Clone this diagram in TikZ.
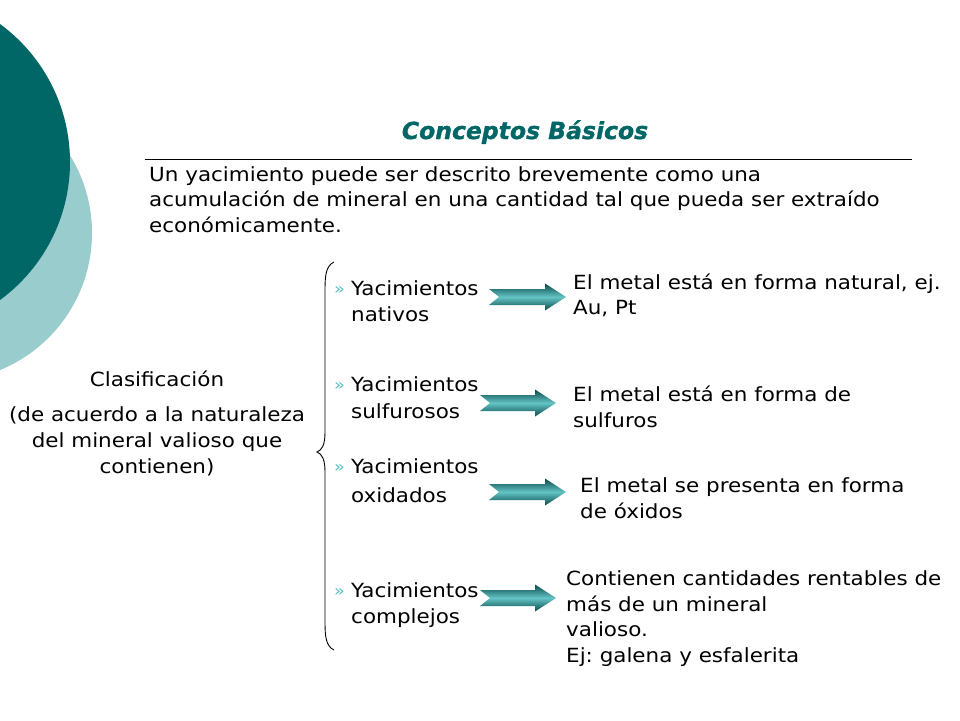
\documentclass[tikz,border=0pt]{standalone}
\usepackage{fontspec}
\setmainfont{DejaVu Sans}[FakeStretch=1.1]
\newfontfamily\titlefont{DejaVu Sans}[BoldItalicFeatures={FakeBold=1.2}]
\frenchspacing
\definecolor{tealdark}{RGB}{0,102,102}
\definecolor{teallight}{RGB}{153,204,204}
\definecolor{arrowdark}{RGB}{8,72,74}
\definecolor{arrowlight}{RGB}{100,196,196}
\definecolor{bulletc}{RGB}{90,190,200}
\tikzset{
  txt/.style={anchor=base west, inner sep=0pt, font=\fontsize{19.5}{25}\selectfont},
  ctxt/.style={anchor=base, inner sep=0pt, font=\fontsize{19.5}{25}\selectfont},
  bul/.style={anchor=base west, inner sep=0pt, text=bulletc, font=\fontsize{16}{18}\selectfont},
}
\newcommand\blockarrow[3]{% x-start, x-end, y
  \shade[top color=arrowdark, bottom color=arrowdark, middle color=arrowlight]
    (#1,#3-8) -- (#2-21,#3-8) -- (#2-21,#3-13.5) -- (#2,#3) -- (#2-21,#3+13.5)
    -- (#2-21,#3+8) -- (#1,#3+8) -- (#1+10,#3) -- cycle;}
\begin{document}
\begin{tikzpicture}[x=1pt,y=-1pt]
\useasboundingbox (0,0) rectangle (960,720);
\clip (0,0) rectangle (960,720);
% background circles
\fill[teallight] (-56,233) circle (148);
\fill[tealdark] (-101,162) circle (171);
% title
\node (title) [anchor=base, inner sep=0pt, text=tealdark, font=\titlefont\fontsize{23.5}{28}\selectfont\bfseries\itshape] at (525,139) {Conceptos Básicos};
\coordinate (rl) at (145,159);
\coordinate (rr) at (912,159);
\draw[line width=1] (rl) -- (rr);
% paragraph
\node (p1) [txt] at (149,181) {Un yacimiento puede ser descrito brevemente como una};
\node (p2) [txt] at (149,206) {acumulación de mineral en una cantidad tal que pueda ser extraído};
\node (p3) [txt] at (149,232) {económicamente.};
% classification
\node (c1) [ctxt] at (157,386) {Clasificación};
\node (c2) [ctxt] at (157,421) {(de acuerdo a la naturaleza};
\node (c3) [ctxt] at (157,447) {del mineral valioso que};
\node (c4) [ctxt] at (157,473) {contienen)};
% brace
\coordinate (bt) at (334,262);
\coordinate (bm) at (317,452);
\coordinate (bb) at (334,650);
\draw[line width=0.9] (bt) .. controls (326,266) and (325,275) .. (325,290)
  -- (325,432) .. controls (325,445) and (322,450) .. (bm)
  .. controls (322,454) and (325,459) .. (325,472)
  -- (325,622) .. controls (325,637) and (326,646) .. (bb);
% items
\node (b1) [bul] at (334,294) {»};
\node (y1a) [txt] at (351,295) {Yacimientos};
\node (y1b) [txt] at (351,321) {nativos};
\node (b2) [bul] at (334,390) {»};
\node (y2a) [txt] at (351,391) {Yacimientos};
\node (y2b) [txt] at (351,418) {sulfurosos};
\node (b3) [bul] at (334,472) {»};
\node (y3a) [txt] at (351,473) {Yacimientos};
\node (y3b) [txt] at (351,502) {oxidados};
\node (b4) [bul] at (334,596) {»};
\node (y4a) [txt] at (351,597) {Yacimientos};
\node (y4b) [txt] at (351,623) {complejos};
% arrows
\blockarrow{489}{566}{297}
\blockarrow{480}{556}{403}
\blockarrow{489}{566}{492}
\blockarrow{480}{556}{598}
% right texts
\node (r1a) [txt] at (573,289) {El metal está en forma natural, ej.};
\node (r1b) [txt] at (573,314) {Au, Pt};
\node (r2a) [txt] at (573,401) {El metal está en forma de};
\node (r2b) [txt] at (573,427) {sulfuros};
\node (r3a) [txt] at (580,492) {El metal se presenta en forma};
\node (r3b) [txt] at (580,518) {de óxidos};
\node (r4a) [txt] at (566,585) {Contienen cantidades rentables de};
\node (r4b) [txt] at (566,611) {más de un mineral};
\node (r4c) [txt] at (566,636) {valioso.};
\node (r4d) [txt] at (566,662) {Ej: galena y esfalerita};
\end{tikzpicture}
\end{document}
